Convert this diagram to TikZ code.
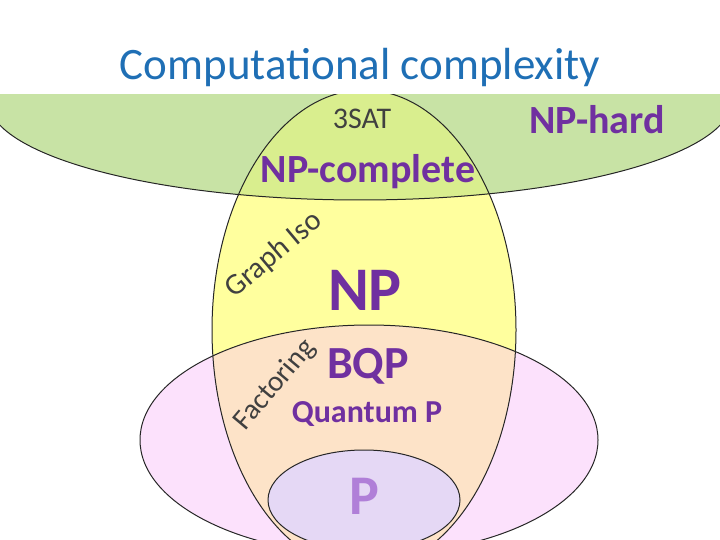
\documentclass[tikz,border=0pt]{standalone}
\usepackage{fontspec}
\setmainfont{Carlito}
\definecolor{grn}{HTML}{C8E3A5}
\definecolor{yel}{HTML}{FFFF9E}
\definecolor{olv}{HTML}{D9EE8E}
\definecolor{pnk}{HTML}{FCE1FC}
\definecolor{pch}{HTML}{FDE3C8}
\definecolor{lav}{HTML}{E5D8F5}
\definecolor{pur}{HTML}{7030A0}
\definecolor{lpur}{HTML}{B07FD8}
\definecolor{ttl}{HTML}{1F6FB5}
\definecolor{txg}{HTML}{404040}
\tikzset{edge/.style={draw=black!85,line width=1pt},
 lbl/.style={text=pur,font=\bfseries}}
\begin{document}
\begin{tikzpicture}[x=1pt,y=-1pt]
\useasboundingbox (0,0) rectangle (720,540);
\begin{scope}
\clip (0,95) rectangle (720,540);
\fill[yel] (364,330) ellipse [x radius=152,y radius=240];
\fill[grn] (360,100) ellipse [x radius=372,y radius=100];
\begin{scope}\clip (360,100) ellipse [x radius=372,y radius=100];
\fill[olv] (364,330) ellipse [x radius=152,y radius=240];\end{scope}
\fill[pnk] (369,440) ellipse [x radius=229,y radius=115];
\begin{scope}\clip (369,440) ellipse [x radius=229,y radius=115];
\fill[pch] (364,330) ellipse [x radius=152,y radius=240];\end{scope}
\fill[lav] (364,500) ellipse [x radius=96,y radius=50];
\draw[edge] (360,100) ellipse [x radius=372,y radius=100];
\draw[edge] (364,330) ellipse [x radius=152,y radius=240];
\draw[edge] (369,440) ellipse [x radius=229,y radius=115];
\draw[edge] (364,500) ellipse [x radius=96,y radius=50];
\end{scope}
\node[text=ttl,font=\fontsize{45}{50}\selectfont] (title) at (360,68) {Computational complexity};
\node[text=txg,font=\fontsize{30}{34}\selectfont] (sat) at (362,119) {3SAT};
\node[lbl,font=\bfseries\fontsize{40}{44}\selectfont] (nph) at (597,120) {NP-hard};
\node[lbl,font=\bfseries\fontsize{40}{44}\selectfont] (npc) at (368,172) {NP-complete};
\node[text=txg,rotate=40,font=\fontsize{30}{34}\selectfont] (gi) at (274,255) {Graph Iso};
\node[lbl,font=\bfseries\fontsize{62}{68}\selectfont] (np) at (365,290) {NP};
\node[text=txg,rotate=50,font=\fontsize{29}{33}\selectfont] (fac) at (275,385) {Factoring};
\node[lbl,font=\bfseries\fontsize{46}{52}\selectfont] (bqp) at (368,366) {BQP};
\node[lbl,font=\bfseries\fontsize{32}{36}\selectfont] (qp) at (367,414) {Quantum P};
\node[text=lpur,font=\bfseries\fontsize{56}{62}\selectfont] (p) at (364,496) {P};
\end{tikzpicture}
\end{document}
